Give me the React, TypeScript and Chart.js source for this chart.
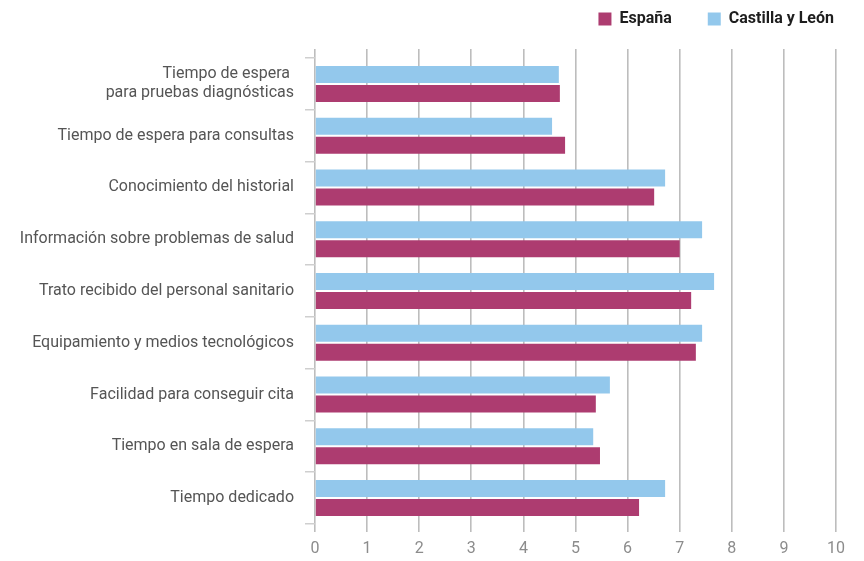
import React, { useEffect, useRef } from "react";
import { Chart, registerables } from "chart.js";

Chart.register(...registerables);

const categories: (string | string[])[] = [
  ["Tiempo de espera ", "para pruebas diagnósticas"],
  "Tiempo de espera para consultas",
  "Conocimiento del historial",
  "Información sobre problemas de salud",
  "Trato recibido del personal sanitario",
  "Equipamiento y medios tecnológicos",
  "Facilidad para conseguir cita",
  "Tiempo en sala de espera",
  "Tiempo dedicado",
];

const castillaLeon = [4.68, 4.55, 6.72, 7.43, 7.66, 7.43, 5.66, 5.34, 6.72];
const espana = [4.7, 4.8, 6.51, 7.0, 7.22, 7.31, 5.39, 5.47, 6.22];

const xMin = 0;
const xMax = 10;
const xStep = 1;

const FONT = "Roboto";
const GRID = "#bdbdbd";

export default function App() {
  const ref = useRef<HTMLCanvasElement | null>(null);

  useEffect(() => {
    if (!ref.current) return;
    const chart = new Chart(ref.current, {
      type: "bar",
      data: {
        labels: categories,
        datasets: [
          {
            label: "Castilla y León",
            data: castillaLeon,
            backgroundColor: "#93C8EC",
            borderWidth: 0,
            categoryPercentage: 0.734,
            barPercentage: 0.895,
          },
          {
            label: "España",
            data: espana,
            backgroundColor: "#AD3C70",
            borderWidth: 0,
            categoryPercentage: 0.734,
            barPercentage: 0.895,
          },
        ],
      },
      options: {
        indexAxis: "y",
        animation: false,
        responsive: true,
        maintainAspectRatio: false,
        layout: { padding: { top: -25, right: -6, left: 0, bottom: 0 } },
        plugins: {
          tooltip: { enabled: false },
          legend: {
            position: "top",
            align: "end",
            reverse: true,
            labels: {
              boxWidth: 13,
              boxHeight: 13,
              padding: 36,
              color: "#1e1e1e",
              font: { family: FONT, size: 16, weight: "bold" },
            },
          },
        },
        scales: {
          x: {
            type: "linear",
            position: "bottom",
            min: xMin,
            max: xMax,
            grid: { color: GRID, lineWidth: 1.6, tickLength: 8 },
            border: { display: false },
            ticks: {
              stepSize: xStep,
              color: "#8c8c8c",
              padding: 7,
              font: { family: FONT, size: 16 },
            },
            afterFit: (s: any) => {
              s.height = 37;
            },
          },
          x2: {
            type: "linear",
            position: "top",
            min: xMin,
            max: xMax,
            grid: { color: GRID, lineWidth: 1.6, tickLength: 9, drawOnChartArea: false },
            border: { display: false },
            ticks: { stepSize: xStep, display: false },
            title: { display: true, text: " ", padding: 0, font: { size: 10, lineHeight: "12px" } },
          },
          y: {
            type: "category",
            position: "left",
            grid: { drawOnChartArea: false, color: "#cfcfcf", lineWidth: 1.5, tickLength: 10 },
            border: { display: false },
            ticks: {
              color: "#555555",
              padding: 11,
              font: { family: FONT, size: 16 },
            },
            afterFit: (s: any) => {
              s.width = 315;
            },
          },
          yRight: {
            type: "linear",
            position: "right",
            display: true,
            grid: { display: false },
            border: { display: false },
            ticks: { display: false },
            afterFit: (s: any) => {
              s.width = 34;
            },
          },
        },
      },
    });
    return () => chart.destroy();
  }, []);

  return (
    <div style={{ position: "relative", width: 864, height: 561, margin: -8 }}>
      <canvas ref={ref} />
    </div>
  );
}
